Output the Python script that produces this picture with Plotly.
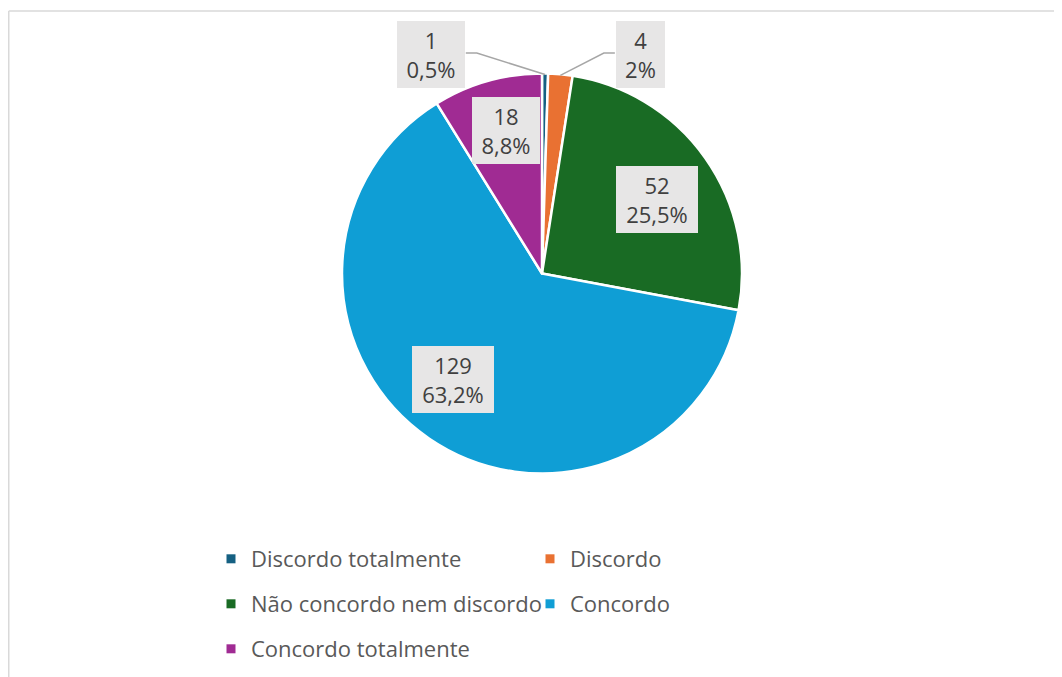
import math
import plotly.graph_objects as go

# ---- data ----
categories = ["Discordo totalmente", "Discordo", "Não concordo nem discordo",
              "Concordo", "Concordo totalmente"]
counts = [1, 4, 52, 129, 18]
colors = ["#156082", "#E97132", "#196B24", "#0F9ED5", "#A02B93"]

# ---- layout constants (page pixel coords; page has an 8px body margin) ----
OFF = 8
W, H = 1062 - OFF, 677 - OFF
cx, cy, R = 542, 273.5, 200
FONT = "Open Sans"

# label placement (radius factor, angle shift in degrees from slice mid-angle)
label_r = [1.228, 1.2, 0.685, 0.694, 0.735]
label_shift = [-27.8, 18.9, 2.4, 5.5, 1.7]
label_outside = [True, True, False, False, False]
label_box_w = [68, 49, 82, 82, 68]
label_box_h = 67
PAD = 5

total = sum(counts)
pcts = [c / total * 100 for c in counts]


def fmt(p):
    s = f"{p:.1f}"
    if s.endswith(".0"):
        s = s[:-2]
    return s.replace(".", ",") + "%"


def px2paper(x, y):
    return (x - OFF) / W, 1 - (y - OFF) / H


fig = go.Figure()

d0 = px2paper(cx - R, cy + R)
d1 = px2paper(cx + R, cy - R)
fig.add_trace(go.Pie(
    labels=categories, values=counts, sort=False, direction="clockwise",
    rotation=0, marker=dict(colors=colors, line=dict(color="white", width=2.5)),
    textinfo="none", hoverinfo="label+value+percent", showlegend=False,
    domain=dict(x=[d0[0], d1[0]], y=[d0[1], d1[1]]),
))

# legend via dummy traces in three rows
legend_rows = ["legend", "legend", "legend2", "legend2", "legend3"]
for cat, col, lg in zip(categories, colors, legend_rows):
    fig.add_trace(go.Scatter(x=[None], y=[None], mode="markers", name=cat,
                             marker=dict(symbol="square", size=9, color=col),
                             legend=lg, showlegend=True, hoverinfo="skip"))

annotations = []
shapes = []
cum = 0
for i, (c, p) in enumerate(zip(counts, pcts)):
    mid = (cum + c / 2) / total * 360
    cum += c
    th = math.radians(mid + label_shift[i])
    lx = cx + label_r[i] * R * math.sin(th)
    ly = cy - label_r[i] * R * math.cos(th)
    ax, ay = px2paper(lx, ly)
    annotations.append(dict(
        x=ax, y=ay, xref="paper", yref="paper", showarrow=False,
        xanchor="center", yanchor="middle",
        text=f"{c}<br>{fmt(p)}", align="center", valign="middle",
        width=label_box_w[i] - 2 * PAD, height=label_box_h - 2 * PAD,
        font=dict(family=FONT, size=22, color="#404040"),
        bgcolor="#E7E6E6", borderpad=PAD, borderwidth=0,
    ))
    if label_outside[i]:
        tm = math.radians(mid)
        ex = cx + 0.995 * R * math.sin(tm)
        ey = cy - 0.995 * R * math.cos(tm)
        half = label_box_w[i] / 2
        side = 1 if lx < cx else -1
        sx = lx + side * (half + 1)
        kx = sx + side * 11
        yline = ly - 1.5
        pts = [px2paper(sx, yline), px2paper(kx, yline), px2paper(ex, ey)]
        path = "M{} {} L{} {} L{} {}".format(*[v for pt in pts for v in pt])
        shapes.append(dict(type="path", xref="paper", yref="paper", path=path,
                           line=dict(color="#A6A6A6", width=1.5)))

# chart border (top and left edges visible)
bx, by = px2paper(8.75, 11)
shapes.append(dict(type="line", xref="paper", yref="paper",
                   x0=bx, x1=1.0, y0=by, y1=by,
                   line=dict(color="#D9D9D9", width=1.5)))
shapes.append(dict(type="line", xref="paper", yref="paper",
                   x0=bx, x1=bx, y0=0, y1=by,
                   line=dict(color="#D9D9D9", width=1.5)))

leg_common = dict(orientation="h", xanchor="left", yanchor="middle",
                  font=dict(family=FONT, size=22, color="#595959"),
                  entrywidth=274, entrywidthmode="pixels",
                  bgcolor="rgba(0,0,0,0)", itemclick=False, itemdoubleclick=False)
legx, _ = px2paper(211, 0)
fig.update_layout(
    width=W, height=H,
    margin=dict(l=0, r=0, t=0, b=0),
    paper_bgcolor="white", plot_bgcolor="white",
    xaxis=dict(visible=False), yaxis=dict(visible=False),
    annotations=annotations, shapes=shapes,
    legend=dict(x=legx, y=px2paper(0, 559)[1], **leg_common),
    legend2=dict(x=legx, y=px2paper(0, 604)[1], **leg_common),
    legend3=dict(x=legx, y=px2paper(0, 649)[1], **leg_common),
)

fig.write_html("out.html")
